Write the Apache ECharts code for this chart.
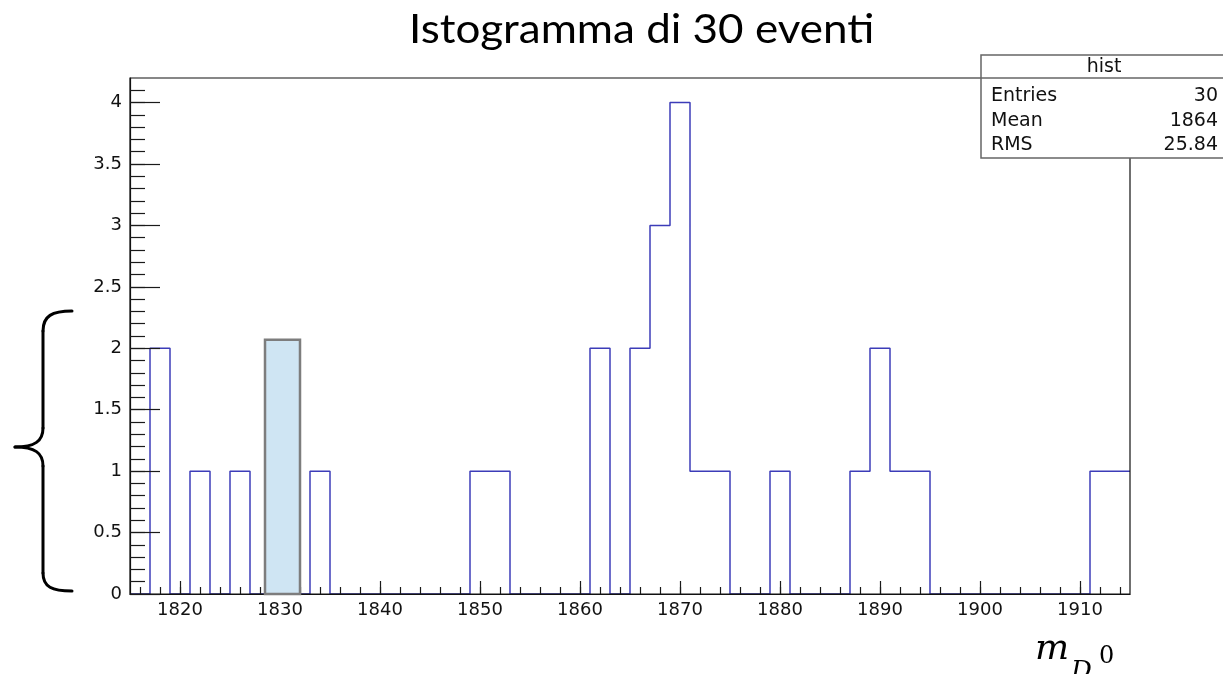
<!DOCTYPE html>
<html>
<head>
<meta charset="utf-8">
<script src="https://cdn.jsdelivr.net/npm/echarts@6/dist/echarts.min.js"></script>
<style>
html,body{margin:0;padding:0;background:#fff;}
#c{width:1223px;height:674px;}
</style>
</head>
<body>
<div id="c"></div>
<script>
// ---- data ----
var titleText = 'Istogramma di 30 eventi';
var binStart = 1815;
var binWidth = 2;
var counts = [0,2,0,1,0,1,0,2,0,1, 0,0,0,0,0,0,0,1,1,0, 0,0,0,2,0,2,3,4,1,1, 0,0,1,0,0,0,1,2,1,1, 0,0,0,0,0,0,0,0,1,1];
var xMin = 1815, xMax = 1915, yMin = 0, yMax = 4.2;
var xMajorTicks = [1820,1830,1840,1850,1860,1870,1880,1890,1900,1910];
var yMajorTicks = [0,0.5,1,1.5,2,2.5,3,3.5,4];
var highlight = [[1828.5, 1832, 2.07]]; // [x from, x to, height]
var statsName = 'hist';
var statsLabels = ['Entries','Mean','RMS'];
var statsValues = ['30','1864','25.84'];

// minor tick positions (axis decoration)
var xMinorTicks = [];
for (var t = 1816; t <= 1914; t += 2) xMinorTicks.push(t);
var yMinorTicks = [];
for (var k = 1; k <= 41; k++) yMinorTicks.push(k / 10);

// histogram outline points from bins
var outline = [];
for (var i = 0; i < counts.length; i++) {
  var lo = binStart + i * binWidth, hi = lo + binWidth;
  outline.push([lo, counts[i]]);
  outline.push([hi, counts[i]]);
}

var tickColor = '#1a1a1a';
var labelFont = {fontFamily:'DejaVu Sans', fontSize:18, color:'#111'};
var braceStyle = {stroke:'#000', lineWidth:3, fill:null, lineCap:'round'};
var statFont = {fontFamily:'DejaVu Sans', fontSize:19, fill:'#111'};
function st(extra){ var o = {}; for (var a in statFont) o[a] = statFont[a]; for (var b in extra) o[b] = extra[b]; return o; }

var chart = echarts.init(document.getElementById('c'), null, {renderer:'canvas'});
chart.setOption({
  backgroundColor:'#ffffff',
  animation:false,
  grid:{left:130, top:78, right:93, bottom:80, show:true, borderColor:'#111', borderWidth:1.2, backgroundColor:'transparent', z:3},
  xAxis:[
    {type:'value', min:xMin, max:xMax, position:'bottom', z:3,
     axisLine:{show:true, lineStyle:{color:'#111', width:1.2}},
     axisTick:{show:true, inside:true, length:13, customValues:xMajorTicks, lineStyle:{color:tickColor, width:1.2}},
     axisLabel:{show:true, customValues:xMajorTicks, margin:7, formatter:function(v){return String(v);},
                fontFamily:labelFont.fontFamily, fontSize:labelFont.fontSize, color:labelFont.color},
     splitLine:{show:false}},
    {type:'value', min:xMin, max:xMax, position:'bottom', z:3,
     axisLine:{show:false},
     axisTick:{show:true, inside:true, length:7, customValues:xMinorTicks, lineStyle:{color:tickColor, width:1.2}},
     axisLabel:{show:false},
     splitLine:{show:false}}
  ],
  yAxis:[
    {type:'value', min:yMin, max:yMax, position:'left', z:3,
     axisLine:{show:true, lineStyle:{color:'#111', width:1.2}},
     axisTick:{show:true, inside:true, length:30, customValues:yMajorTicks, lineStyle:{color:tickColor, width:1.2}},
     axisLabel:{show:true, customValues:yMajorTicks, margin:8, formatter:function(v){return String(v);},
                fontFamily:labelFont.fontFamily, fontSize:labelFont.fontSize, color:labelFont.color},
     splitLine:{show:false}},
    {type:'value', min:yMin, max:yMax, position:'left', z:3,
     axisLine:{show:false},
     axisTick:{show:true, inside:true, length:15, customValues:yMinorTicks, lineStyle:{color:tickColor, width:1.2}},
     axisLabel:{show:false},
     splitLine:{show:false}}
  ],
  series:[
    {type:'line', xAxisIndex:0, yAxisIndex:0, data:outline, symbol:'none', z:2,
     lineStyle:{color:'#3c3cb8', width:1.5}},
    {type:'custom', xAxisIndex:0, yAxisIndex:0, data:highlight, z:10,
     renderItem:function(params, api){
       var p1 = api.coord([api.value(0), api.value(2)]);
       var p2 = api.coord([api.value(1), 0]);
       return {type:'rect', shape:{x:p1[0], y:p1[1], width:p2[0]-p1[0], height:p2[1]-p1[1]},
               style:{fill:'#cfe5f3', stroke:'#7d7d7d', lineWidth:2.5}};
     }}
  ],
  graphic:[
    {type:'text', x:409, y:10, scaleX:1.1, z:100, style:{text:titleText, fontFamily:'Lato', fontSize:40, fill:'#000'}},
    {type:'bezierCurve', z:100, shape:{x1:72,y1:311,x2:43,y2:331,cpx1:52,cpy1:311,cpx2:43,cpy2:316}, style:braceStyle},
    {type:'line', z:100, shape:{x1:43,y1:331,x2:43,y2:428}, style:braceStyle},
    {type:'bezierCurve', z:100, shape:{x1:43,y1:428,x2:15,y2:447,cpx1:43,cpy1:441,cpx2:35,cpy2:447}, style:braceStyle},
    {type:'bezierCurve', z:100, shape:{x1:15,y1:447,x2:43,y2:466,cpx1:35,cpy1:447,cpx2:43,cpy2:453}, style:braceStyle},
    {type:'line', z:100, shape:{x1:43,y1:466,x2:43,y2:573}, style:braceStyle},
    {type:'bezierCurve', z:100, shape:{x1:43,y1:573,x2:72,y2:591,cpx1:43,cpy1:587,cpx2:52,cpy2:591}, style:braceStyle},
    {type:'rect', z:100, shape:{x:981, y:55, width:260, height:103}, style:{fill:'#fff', stroke:'#666', lineWidth:1.5}},
    {type:'line', z:101, shape:{x1:981, y1:78, x2:1241, y2:78}, style:{stroke:'#666', lineWidth:1.5}},
    {type:'text', z:101, x:1104, y:67, style:st({text:statsName, align:'center', verticalAlign:'middle'})},
    {type:'text', z:101, x:991, y:96, style:st({text:statsLabels[0], verticalAlign:'middle'})},
    {type:'text', z:101, x:991, y:121, style:st({text:statsLabels[1], verticalAlign:'middle'})},
    {type:'text', z:101, x:991, y:145, style:st({text:statsLabels[2], verticalAlign:'middle'})},
    {type:'text', z:101, x:1218, y:96, style:st({text:statsValues[0], align:'right', verticalAlign:'middle'})},
    {type:'text', z:101, x:1218, y:121, style:st({text:statsValues[1], align:'right', verticalAlign:'middle'})},
    {type:'text', z:101, x:1218, y:145, style:st({text:statsValues[2], align:'right', verticalAlign:'middle'})},
    {type:'text', z:100, x:1035, y:668, style:{text:'m', fontFamily:'DejaVu Serif', fontStyle:'italic', fontSize:36, fill:'#000', verticalAlign:'bottom'}},
    {type:'text', z:100, x:1071, y:685, style:{text:'D', fontFamily:'DejaVu Serif', fontStyle:'italic', fontSize:26, fill:'#000', verticalAlign:'bottom'}},
    {type:'text', z:100, x:1099, y:669, style:{text:'0', fontFamily:'DejaVu Serif', fontSize:24, fill:'#000', verticalAlign:'bottom'}}
  ]
});
</script>
</body>
</html>
